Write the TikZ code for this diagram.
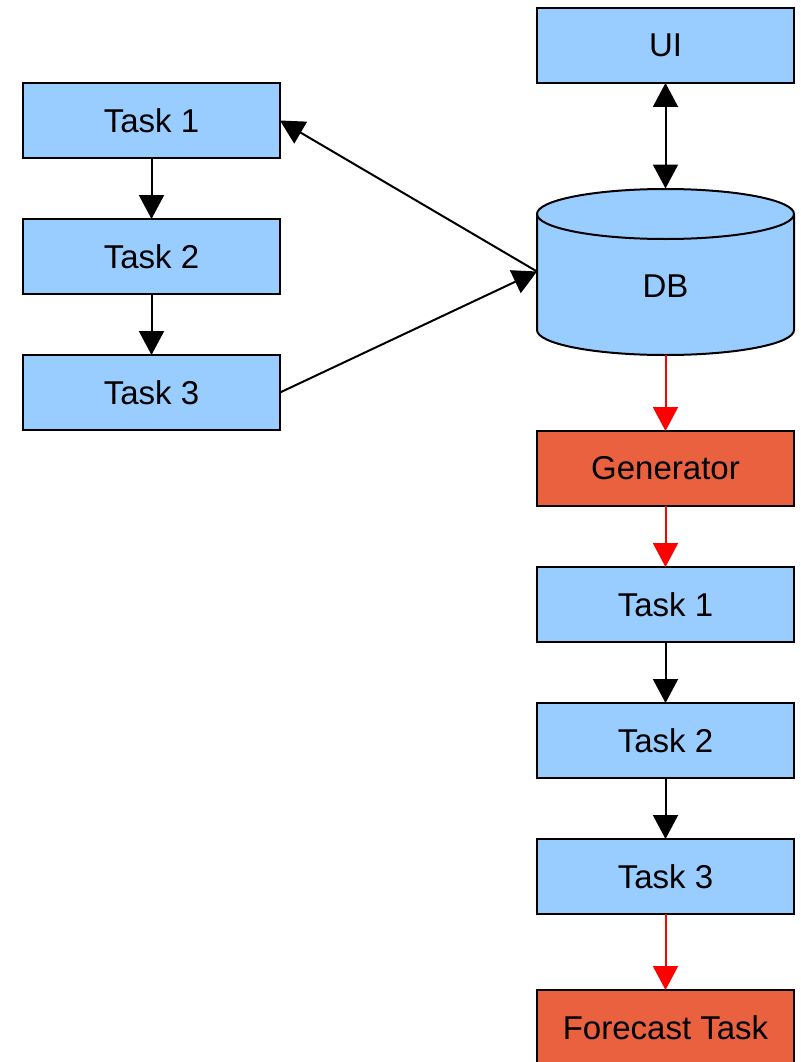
\documentclass[tikz,border=0pt]{standalone}
\usepackage{fontspec}
\setmainfont{Liberation Sans}
\usetikzlibrary{arrows.meta}
\definecolor{boxblue}{HTML}{99CCFF}
\definecolor{boxred}{RGB}{234,97,64}
\begin{document}
\begin{tikzpicture}[x=1pt, y=1pt,
    taskbox/.style={rectangle, draw, line width=2pt, fill=boxblue, minimum width=257pt, minimum height=75pt, outer sep=0pt, font=\fontsize{33}{38}\selectfont},
    hotbox/.style={taskbox, fill=boxred},
    tip/.style={-{Triangle[length=24pt, width=25pt]}, line width=2pt},
    redtip/.style={tip, red}]

    \useasboundingbox (0,0) rectangle (800,-1062);

    \draw node[taskbox] (tl1) at (151.5,-120.5) {Task 1};
    \draw node[taskbox] (tl2) at (151.5,-256.5) {Task 2};
    \draw node[taskbox] (tl3) at (151.5,-392.5) {Task 3};

    \draw node[taskbox] (ui) at (665.5,-45.5) {UI};

    % DB cylinder
    \filldraw[fill=boxblue, line width=2pt] (537,-214) -- (537,-330) arc (180:360:128.5 and 25) -- (794,-214) arc (0:180:128.5 and 25) -- cycle;
    \draw[line width=2pt] (537,-214) arc (180:360:128.5 and 25);
    \draw node[minimum width=257pt, minimum height=166pt, inner sep=0pt, outer sep=0pt] (db) at (665.5,-271.5) {};
    \draw node[font=\fontsize{33}{38}\selectfont] (dblabel) at (665.5,-286) {DB};

    \draw node[hotbox] (gen) at (665.5,-468.5) {Generator};
    \draw node[taskbox] (tr1) at (665.5,-604.5) {Task 1};
    \draw node[taskbox] (tr2) at (665.5,-740.5) {Task 2};
    \draw node[taskbox] (tr3) at (665.5,-876.5) {Task 3};
    \draw node[hotbox] (fc) at (665.5,-1027.5) {Forecast Task};

        \path
    (tl1) edge[tip] (tl2)
    (tl2) edge[tip] (tl3)
    (tl3.east) edge[tip] (db.west)
    (db.west) edge[tip] (tl1.east)
    (tr1) edge[tip] (tr2)
    (tr2) edge[tip] (tr3)
    (ui) edge[tip, {Triangle[length=24pt, width=25pt]}-{Triangle[length=24pt, width=25pt]}] (db.north)
    (db.south) edge[redtip] (gen)
    (gen) edge[redtip] (tr1)
    (tr3) edge[redtip] (fc)
        ;
    \end{tikzpicture}
\end{document}
